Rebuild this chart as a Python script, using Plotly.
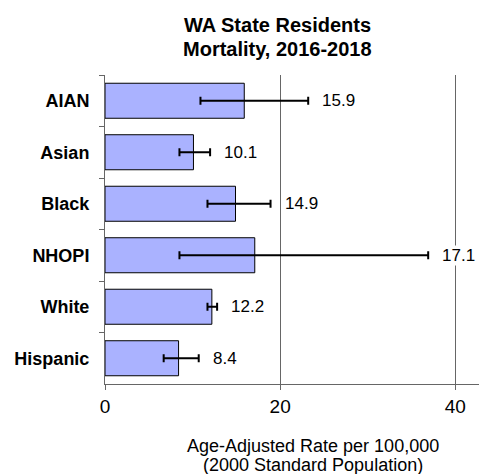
import plotly.graph_objects as go

categories = ["AIAN", "Asian", "Black", "NHOPI", "White", "Hispanic"]
rates = [15.9, 10.1, 14.9, 17.1, 12.2, 8.4]
ci_low = [10.9, 8.5, 11.7, 8.5, 11.7, 6.7]
ci_high = [23.2, 12.0, 18.9, 36.9, 12.8, 10.7]
x_ticks = [0, 20, 40]
title_lines = ["WA State Residents", "Mortality, 2016-2018"]
xtitle_lines = ["Age-Adjusted Rate per 100,000", "(2000 Standard Population)"]

FONT = "Liberation Sans, Arial"
err_plus = [h - r for h, r in zip(ci_high, rates)]
err_minus = [r - l for r, l in zip(rates, ci_low)]

fig = go.Figure()
fig.add_trace(go.Bar(
    y=categories, x=rates, orientation="h",
    marker=dict(color="rgb(170,178,255)", line=dict(color="black", width=1)),
    error_x=dict(type="data", array=err_plus, arrayminus=err_minus,
                 color="black", thickness=2, width=4),
    width=0.68,
    hoverinfo="skip",
))

for c, r, h in zip(categories, rates, ci_high):
    fig.add_annotation(x=h, y=c, xref="x", yref="y", text=f"{r:.1f}",
                       showarrow=False, xanchor="left", xshift=13,
                       bgcolor="white", borderpad=0,
                       font=dict(family=FONT, size=17, color="black"))

# x-axis title (two lines)
for i, line in enumerate(xtitle_lines):
    fig.add_annotation(xref="paper", yref="paper", x=0.546, y=0, yshift=-62 - 19 * i,
                       xanchor="center", yanchor="middle", showarrow=False,
                       text=line, font=dict(family=FONT, size=18, color="black"))

# chart title (two lines)
for i, line in enumerate(title_lines):
    fig.add_annotation(xref="paper", yref="paper", x=(277 - 105) / 381, y=1,
                       yshift=50 - 24 * i,
                       xanchor="center", yanchor="middle", showarrow=False,
                       text=f"<b>{line}</b>", font=dict(family=FONT, size=20, color="black"))

# page body has an 8px default margin, so the figure is sized/offset accordingly
fig.update_layout(
    width=479, height=466,
    margin=dict(l=97, r=1, t=67, b=90, autoexpand=False),
    paper_bgcolor="white", plot_bgcolor="white",
    showlegend=False,
    font=dict(family=FONT, color="black"),
)
fig.update_xaxes(range=[0, 43.5], tickvals=x_ticks, ticks="outside", ticklen=5,
                 tickcolor="#666666", automargin=False,
                 showline=True, linecolor="#666666", linewidth=1,
                 showgrid=True, gridcolor="#666666", gridwidth=1, zeroline=False,
                 tickfont=dict(size=19, family=FONT))
fig.update_yaxes(categoryorder="array", categoryarray=categories, autorange="reversed",
                 ticks="outside", ticklen=5, tickson="boundaries", tickcolor="#666666",
                 showline=True, linecolor="#666666", linewidth=1, automargin=False,
                 showgrid=False, ticklabelstandoff=11,
                 tickprefix="<b>", ticksuffix="</b>",
                 tickfont=dict(size=18, family=FONT))

fig.write_html("out.html")
